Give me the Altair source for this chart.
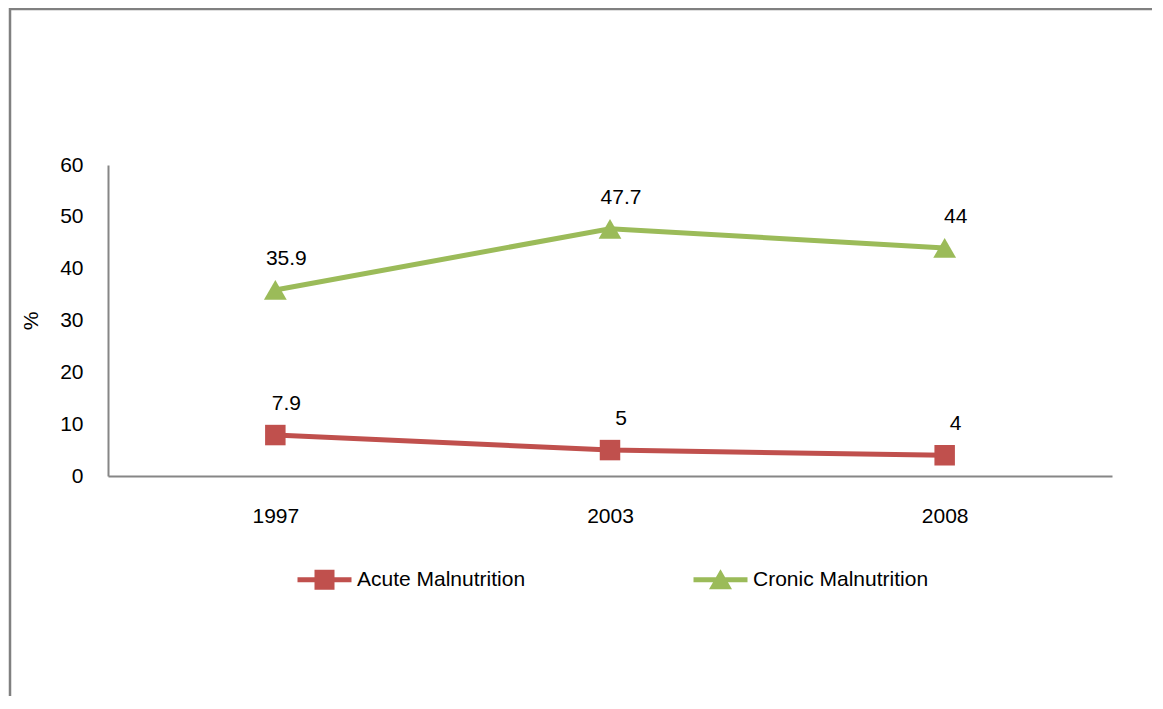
import altair as alt
import pandas as pd

# ---- data ----
years = ["1997", "2003", "2008"]
acute = [7.9, 5, 4]
cronic = [35.9, 47.7, 44]
series_names = ["Acute Malnutrition", "Cronic Malnutrition"]
series_colors = ["#C0504D", "#9BBB59"]
series_shapes = ["square", "triangle-up"]
series_sizes = [420, 520]
y_ticks = [0, 10, 20, 30, 40, 50, 60]

rows = []
for name, vals in zip(series_names, [acute, cronic]):
    for yr, v in zip(years, vals):
        rows.append({"Year": yr, "Value": v, "Series": name})
df = pd.DataFrame(rows)

# ---- layout ----
W, H = 1004, 311
PAD = {"left": 100, "top": 157, "right": 40, "bottom": 220}
FONT = "Liberation Sans"
FS = 21

sq_path = "M-2.7,-0.25H-1V-1H1V-0.25H2.7V0.25H1V1H-1V0.25H-2.7Z"
tri_path = "M-2.7,-0.25H2.7V0.25H-2.7Z M0,-1.05L1.15,0.95L-1.15,0.95Z"
shape_sig = "datum.value === '" + series_names[0] + "' ? '" + sq_path + "' : '" + tri_path + "'"

legend = alt.Legend(
    title=None,
    orient="none",
    legendX=206,
    legendY=404,
    direction="horizontal",
    symbolSize=400,
    symbolType={"expr": shape_sig},
    symbolStrokeWidth=0,
    symbolOpacity=1,
    symbolFillColor={"expr": "datum.value === '" + series_names[0] + "' ? '"
                     + series_colors[0] + "' : '" + series_colors[1] + "'"},
    labelFont=FONT,
    labelFontSize=FS,
    labelColor="black",
    labelOffset=22,
    labelLimit=400,
    columnPadding=167,
)

x_enc = alt.X(
    "Year:N",
    sort=years,
    scale=alt.Scale(type="point", padding=0.5),
    axis=alt.Axis(title=None, labelAngle=0, labelPadding=29, ticks=False,
                  domainColor="#868686", domainWidth=2,
                  labelFont=FONT, labelFontSize=FS, labelColor="black"),
)
y_enc = alt.Y(
    "Value:Q",
    scale=alt.Scale(domain=[0, 60], nice=False),
    axis=alt.Axis(title="%", values=y_ticks, ticks=False, labelPadding=25,
                  domainColor="#868686", domainWidth=2, grid=False,
                  labelFont=FONT, labelFontSize=FS, labelColor="black",
                  titleX=-77, titleY=H / 2, titleAlign="center",
                  titleBaseline="middle", titleFontWeight="normal",
                  titleFontSize=FS, titleFont=FONT, titleColor="black"),
)
color_scale = alt.Scale(domain=series_names, range=series_colors)

base = alt.Chart(df).encode(x=x_enc, y=y_enc)

lines = base.mark_line(strokeWidth=5).encode(
    color=alt.Color("Series:N", scale=color_scale, legend=legend)
)

point_layers = []
for name, shp, sz in zip(series_names, series_shapes, series_sizes):
    point_layers.append(
        base.transform_filter(alt.datum.Series == name)
        .mark_point(filled=True, opacity=1, shape=shp, size=sz)
        .encode(color=alt.Color("Series:N", scale=color_scale, legend=None))
    )

labels = base.mark_text(font=FONT, fontSize=FS, dx=11, dy=-31,
                        baseline="middle", align="center", color="black").encode(
    text=alt.Text("Value:Q"),
)

frame_df = pd.DataFrame({"k": [0]})
frame_left = alt.Chart(frame_df).mark_rule(color="#808080", strokeWidth=2.5).encode(
    x=alt.value(-98), y=alt.value(-157), y2=alt.value(H + PAD["bottom"])
)
frame_top = alt.Chart(frame_df).mark_rule(color="#808080", strokeWidth=2.5).encode(
    x=alt.value(-99), x2=alt.value(W + PAD["right"]), y=alt.value(-156)
)

chart = alt.layer(frame_left, frame_top, lines, *point_layers, labels).properties(
    width=W,
    height=H,
    padding=PAD,
    autosize=alt.AutoSizeParams(type="none"),
).configure(
    background="white",
    view=alt.ViewConfig(stroke=None),
    axis=alt.AxisConfig(labelFont=FONT, labelFontSize=FS, labelColor="black", grid=False),
)

chart.save("out.html", embed_options={"renderer": "svg", "actions": False})
